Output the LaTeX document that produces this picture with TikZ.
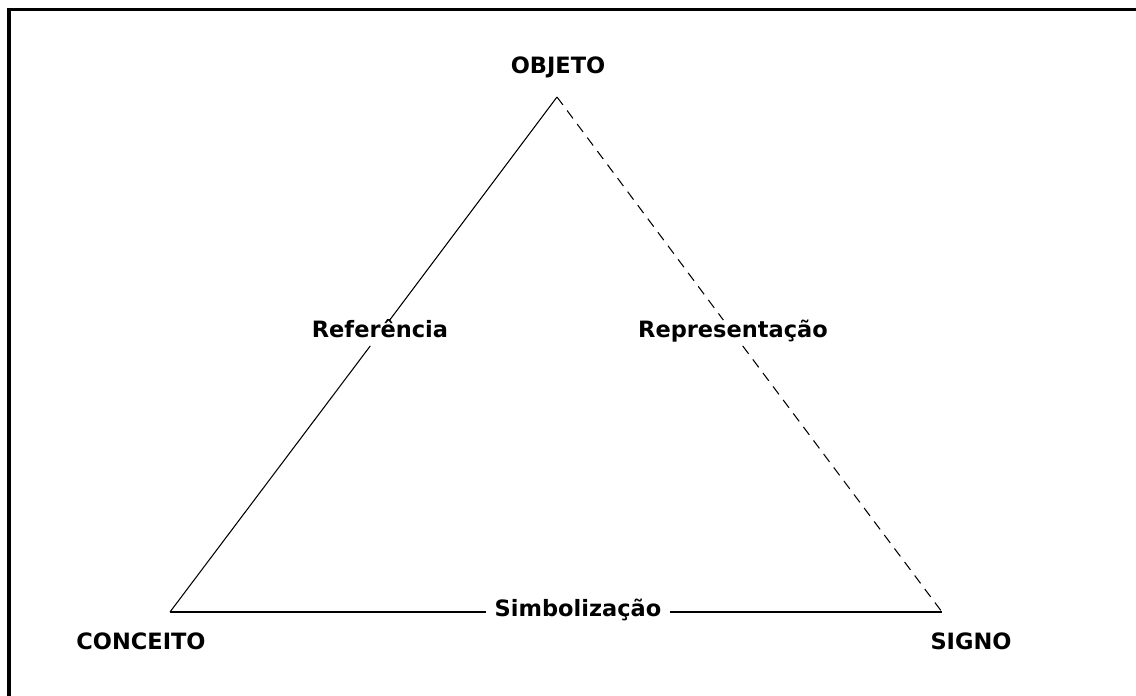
\documentclass[tikz,border=0pt]{standalone}
\usepackage{fontspec}
\setmainfont{DejaVu Sans}
\usepackage{tikz}
\usetikzlibrary{positioning, calc}

\begin{document}
\begin{tikzpicture}[x=0.025cm, y=-0.025cm,
    vertice/.style={font=\fontsize{16}{19}\selectfont\bfseries},
    relacao/.style={font=\fontsize{16}{19}\selectfont\bfseries, fill=white,
        text height=0.95em, text depth=0.25em, inner xsep=6pt, inner ysep=3pt},
    lado/.style={line width=0.75pt}]
\useasboundingbox (0,0) rectangle (1136,696);
% Frame (only top and left edges show)
\draw[line width=2.8pt] (9,696) -- (9,9.5) -- (1136,9.5);

% Corners of the triangle
\coordinate (obj) at (557,97);
\coordinate (cpt) at (170,612);
\coordinate (sig) at (942,612);

% Vertex labels
\node[vertice] (objeto) at (558,67) {OBJETO};
\node[vertice] (conceito) at (141,641) {CONCEITO};
\node[vertice] (signo) at (971,641) {SIGNO};

% Relation labels on the sides
\node[relacao] (referencia) at (380,333) {Referência};
\node[relacao] (representacao) at (733,333) {Representação};
\node[relacao] (simbolizacao) at (578,612) {Simbolização};

% Sides
\draw[lado] (cpt) -- (referencia) -- (obj);
\draw[lado, dash pattern=on 7pt off 5pt] (obj) -- (representacao) -- (sig);
\draw[lado] (cpt) -- (simbolizacao) -- (sig);
\end{tikzpicture}
\end{document}
